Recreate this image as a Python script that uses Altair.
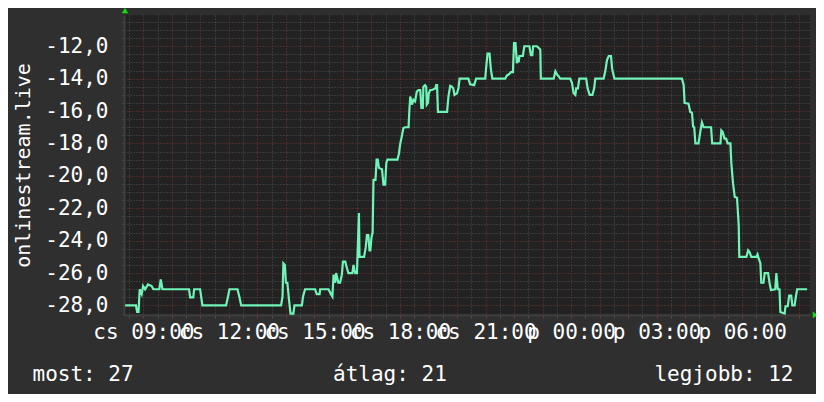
import altair as alt
import pandas as pd

# time in hours since Thursday 00:00 (24+ = Friday), value = negated rank
hours = [8.36, 8.74, 8.78, 8.83, 8.87, 8.94, 8.99, 9.06, 9.16, 9.29, 9.35, 9.56, 9.61, 9.67,
         10.60, 10.64, 10.75, 10.78, 10.99, 11.07, 11.90, 11.95, 12.02, 12.30, 12.37, 12.43,
         13.83, 13.88, 13.91, 13.96, 14.00, 14.05, 14.11, 14.16, 14.26, 14.30, 14.56, 14.60,
         14.67, 15.02, 15.08, 15.18, 15.20, 15.49, 15.58, 15.63, 15.67, 15.73, 15.76, 15.84,
         15.90, 15.96, 16.00, 16.08, 16.14, 16.19, 16.33, 16.37, 16.40, 16.43, 16.49, 16.52,
         16.56, 16.58, 16.74, 16.80, 16.84, 16.89, 16.93, 16.96, 17.00, 17.04, 17.07, 17.14,
         17.18, 17.22, 17.26, 17.37, 17.42, 17.48, 17.52, 17.56, 17.91, 17.96, 18.01, 18.07,
         18.12, 18.18, 18.30, 18.33, 18.36, 18.42, 18.47, 18.53, 18.59, 18.65, 18.71, 18.75,
         18.80, 18.82, 18.88, 18.92, 18.94, 18.98, 19.01, 19.06, 19.12, 19.24, 19.27, 19.30,
         19.33, 19.65, 19.70, 19.76, 19.82, 19.87, 19.91, 20.00, 20.05, 20.09, 20.40, 20.46,
         20.60, 20.67, 20.99, 21.02, 21.07, 21.14, 21.19, 21.24, 21.69, 21.75, 21.81, 21.89,
         21.96, 22.00, 22.05, 22.10, 22.14, 22.16, 22.19, 22.31, 22.36, 22.54, 22.59, 22.64,
         22.67, 22.80, 22.86, 22.92, 22.94, 23.39, 23.45, 23.51, 23.56, 23.62, 23.97, 24.03,
         24.09, 24.15, 24.18, 24.24, 24.29, 24.53, 24.58, 24.65, 24.75, 24.81, 24.85, 25.14,
         25.20, 25.26, 25.32, 25.40, 25.44, 25.52, 27.89, 27.95, 27.98, 28.12, 28.18, 28.24,
         28.28, 28.32, 28.36, 28.47, 28.53, 28.59, 28.65, 28.91, 28.95, 29.24, 29.27, 29.32,
         29.38, 29.44, 29.49, 29.59, 29.62, 29.68, 29.74, 29.82, 29.88, 29.90, 30.15, 30.21,
         30.26, 30.32, 30.50, 30.54, 30.58, 30.64, 30.67, 30.75, 30.79, 30.91, 30.96, 31.01,
         31.16, 31.20, 31.25, 31.31, 31.34, 31.41, 31.49, 31.52, 31.60, 31.65, 31.72, 31.76,
         31.84, 31.89, 31.93, 32.28]

values = [-28, -28, -28.4, -28.4, -27, -27.3, -26.8, -27, -26.7, -26.8, -27, -27, -26.4, -27,
          -27, -27.5, -27.5, -27, -27, -28, -28, -27.6, -27, -27, -27.5, -28,
          -28, -27.45, -25.4, -25.5, -26.6, -26.6, -27.7, -28.5, -28.5, -28, -28, -27.45,
          -27, -27, -27.3, -27.3, -27, -27, -27.3, -27.45, -26.1, -26.6, -26.0, -26.6,
          -26.6, -26.1, -25.3, -25.3, -25.7, -26.0, -26.0, -25.5, -25.8, -26.0, -26.0, -24.4,
          -22.3, -25.0, -25.0, -24.4, -23.65, -23.65, -24.6, -24.6, -23.8, -23.5, -20.25, -20.25,
          -19.0, -19.0, -19.5, -19.6, -20.55, -20.55, -19.2, -19.0, -19.0, -18.65, -18.0, -17.5,
          -17.05, -17.0, -17.0, -15.9, -15.1, -15.6, -15.3, -15.4, -14.8, -14.7, -14.7, -15.8,
          -15.8, -14.5, -14.4, -14.5, -15.6, -15.5, -14.9, -14.7, -14.7, -14.6, -14.4, -14.4,
          -16.05, -16.05, -15.1, -14.45, -14.5, -14.6, -15.0, -14.9, -14.6, -14.0, -14.0, -14.35,
          -14.4, -14.0, -14.0, -13.35, -12.45, -12.45, -13.45, -14.0, -14.0, -13.8, -13.75, -13.6,
          -13.6, -11.8, -11.8, -13.05, -12.65, -13.0, -12.6, -12.6, -12.0, -12.0, -12.55, -12.55,
          -12.0, -12.0, -12.1, -12.2, -14.0, -14.0, -13.55, -13.75, -13.85, -14.0, -14.0, -14.25,
          -14.9, -15.0, -14.6, -14.6, -14.0, -14.0, -14.6, -15.0, -15.0, -14.6, -14.0, -14.0,
          -13.55, -12.85, -12.6, -12.6, -13.4, -14.0, -14.0, -14.4, -15.5, -15.55, -16.05, -16.1,
          -16.95, -17.0, -18.0, -18.0, -17.3, -16.7, -17.0, -17.0, -18.0, -18.0, -17.2, -17.3,
          -17.7, -17.7, -18.0, -18.0, -19.2, -20.45, -21.3, -21.35, -23.05, -25.0, -25.0, -24.6,
          -24.7, -25.0, -25.0, -24.85, -25.1, -25.4, -26.6, -26.6, -26.0, -26.0, -26.6, -27.05,
          -27.0, -26.0, -27.0, -27.0, -28.4, -28.45, -28.5, -28.05, -28.05, -27.4, -27.4, -28.0,
          -28.0, -27.4, -27.0, -27.0]

x_ticks = [8.5, 9, 9.5, 10, 10.5, 11, 11.5, 12, 12.5, 13, 13.5, 14, 14.5, 15, 15.5, 16,
           16.5, 17, 17.5, 18, 18.5, 19, 19.5, 20, 20.5, 21, 21.5, 22, 22.5, 23, 23.5, 24,
           24.5, 25, 25.5, 26, 26.5, 27, 27.5, 28, 28.5, 29, 29.5, 30, 30.5, 31, 31.5, 32]
y_ticks = [-28.5, -28, -27.5, -27, -26.5, -26, -25.5, -25, -24.5, -24, -23.5, -23, -22.5,
           -22, -21.5, -21, -20.5, -20, -19.5, -19, -18.5, -18, -17.5, -17, -16.5, -16,
           -15.5, -15, -14.5, -14, -13.5, -13, -12.5, -12, -11.5, -11, -10.5]

legend_texts = ["most: 27", "átlag: 21", "legjobb: 12"]

FONT = "DejaVu Sans Mono"
FS = 21
BG = "#2f2f2f"
CANVAS = "#222222"
MINOR = "#505050"
MAJOR = "#763434"
LINE = "#70f4b8"
ARROW = "#11dd11"

df = pd.DataFrame({"h": hours, "v": values})

x_axis = alt.Axis(
    values=x_ticks, grid=True,
    gridColor={"condition": {"test": "datum.value % 1 === 0", "value": MAJOR}, "value": MINOR},
    tickColor={"condition": {"test": "datum.value % 1 === 0", "value": MAJOR}, "value": MINOR},
    gridDash=[1, 2], gridWidth=1, tickSize=3, tickWidth=1,
    labelExpr="datum.value % 3 === 0 ? ((datum.value < 24 ? 'cs ' : 'p ') + ((datum.value % 24) < 10 ? '0' : '') + (datum.value % 24) + ':00') : ''",
    labelOverlap=False, labelFlush=False, labelPadding=20, labelBaseline="alphabetic",
    labelFont=FONT, labelFontSize=FS, labelColor="white",
    domainColor="#3e3e3e", domainWidth=2, title=None,
)

y_axis = alt.Axis(
    values=y_ticks, grid=True,
    gridColor={"condition": {"test": "datum.value % 2 === 0", "value": MAJOR}, "value": MINOR},
    tickColor={"condition": {"test": "datum.value % 2 === 0", "value": MAJOR}, "value": MINOR},
    gridDash=[1, 2], gridWidth=1, tickSize=2, tickWidth=1,
    labelExpr="datum.value % 2 === 0 ? ((datum.value < 0 ? '-' : '') + replace(format(abs(datum.value), '.1f'), '.', ',')) : ''",
    labelOverlap=False, labelPadding=14, labelFont=FONT, labelFontSize=FS, labelColor="white",
    domainColor="#3e3e3e", domainWidth=2,
    title="onlinestream.live", titleAngle=-90, titleX=-95, titleY=150, titleAlign="center",
    titleBaseline="alphabetic", titleFont=FONT, titleFontSize=20, titleFontWeight="normal",
    titleColor="white",
)

line = alt.Chart(df).mark_line(color=LINE, strokeWidth=2.2, interpolate="linear").encode(
    x=alt.X("h:Q", scale=alt.Scale(domain=[8.32, 32.38], nice=False, zero=False), axis=x_axis),
    y=alt.Y("v:Q", scale=alt.Scale(domain=[-28.59, -10.07], nice=False, zero=False), axis=y_axis),
)

def legend(text, xpos, align):
    return alt.Chart(pd.DataFrame({"t": [text]})).mark_text(
        align=align, baseline="alphabetic", font=FONT, fontSize=FS, color="white"
    ).encode(x=alt.value(xpos), y=alt.value(366), text="t:N")

leg1 = legend(legend_texts[0], -91.5, "left")
leg2 = legend(legend_texts[1], 209, "left")
leg3 = legend(legend_texts[2], 669.5, "right")

arrow_up = alt.Chart(pd.DataFrame({"a": [0]})).mark_point(
    shape="triangle-up", filled=True, size=40, color=ARROW, opacity=1
).encode(x=alt.value(1), y=alt.value(-4.5))
arrow_right = alt.Chart(pd.DataFrame({"a": [0]})).mark_point(
    shape="triangle-right", filled=True, size=40, color=ARROW, opacity=1
).encode(x=alt.value(691.5), y=alt.value(300))

chart = alt.layer(line, leg1, leg2, leg3, arrow_up, arrow_right).properties(
    width=686, height=300,
    padding={"left": 116, "top": 7, "right": 6, "bottom": 79},
    autosize="none",
    background=BG,
).configure_view(fill=CANVAS, stroke=None)

chart.save("out.html", embed_options={"renderer": "svg", "actions": False})
